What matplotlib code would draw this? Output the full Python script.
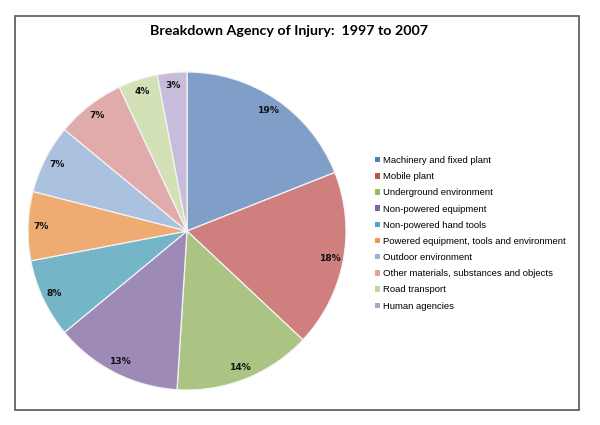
import matplotlib.pyplot as plt
from matplotlib.patches import Rectangle, Patch

# Agency of injury breakdown, 1997 to 2007
agencies = [
    'Machinery and fixed plant',
    'Mobile plant',
    'Underground environment',
    'Non-powered equipment',
    'Non-powered hand tools',
    'Powered equipment, tools and environment',
    'Outdoor environment',
    'Other materials, substances and objects',
    'Road transport',
    'Human agencies',
]
shares = [19, 18, 14, 13, 8, 7, 7, 7, 4, 3]
colors = ['#7f9fc9', '#cf7f7e', '#acc483', '#9d8ab7', '#74b5c7',
          '#eeab72', '#abc1e0', '#e2abab', '#d2e1b6', '#c7bcd9']
legend_colors = ['#4f7fbf', '#c0504d', '#9bbb59', '#8064a2', '#4bacc6',
                 '#f79646', '#95b3d7', '#e6a0a0', '#c3d69b', '#b3a2c7']

fig = plt.figure(figsize=(6, 4.25), dpi=100)

# outer frame
fig.patches.append(Rectangle((15 / 600, 15 / 425), 564 / 600, 394 / 425,
                             transform=fig.transFigure, fill=False,
                             edgecolor='#555555', linewidth=1.2))

fig.text(0.482, 1 - 31 / 425, 'Breakdown Agency of Injury:  1997 to 2007',
         ha='center', va='center', fontsize=10.3, fontweight='bold',
         family='Lato')

ax = fig.add_axes([28 / 600, 1 - 390 / 425, 318 / 600, 318 / 425])
wedges, texts, autotexts = ax.pie(
    shares, colors=colors, startangle=90, counterclock=False,
    autopct='%d%%', pctdistance=0.92,
    wedgeprops=dict(edgecolor='#f4f4f4', linewidth=0.9),
    textprops=dict(fontsize=6.6, fontweight='bold', family='DejaVu Sans',
                   color='#111111'))
ax.set_xlim(-1, 1)
ax.set_ylim(-1, 1)
ax.set_aspect('equal')

handles = [Patch(facecolor=c, edgecolor='none') for c in legend_colors]
fig.legend(handles, agencies, loc='upper left',
           bbox_to_anchor=(375 / 600, 1 - 156 / 425), frameon=False,
           prop=dict(family='Liberation Sans', size=6.8),
           handlelength=0.5, handleheight=0.5, handletextpad=0.35,
           labelspacing=0.76, borderaxespad=0, borderpad=0)

plt.savefig('out.png', dpi=100)
plt.close()
